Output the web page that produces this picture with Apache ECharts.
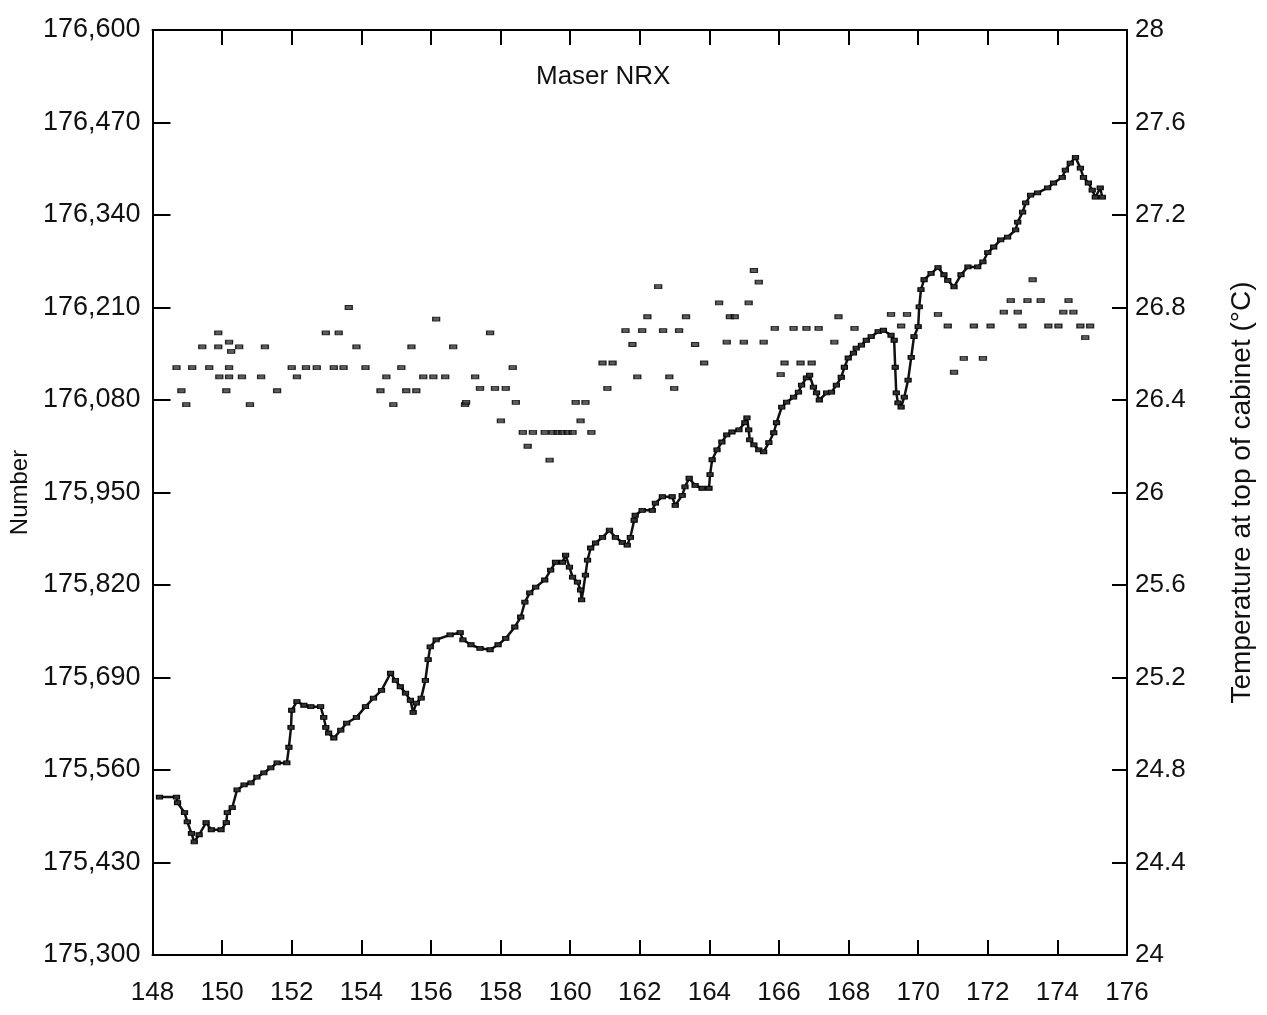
<!DOCTYPE html>
<html>
<head>
<meta charset="utf-8">
<script src="https://cdn.jsdelivr.net/npm/echarts@6/dist/echarts.min.js"></script>
<style>
html,body{margin:0;padding:0;background:#fff;}
#chart{width:1267px;height:1015px;}
</style>
</head>
<body>
<div id="chart"></div>
<script>
// Day of year (x) and count for the maser "Number" trace (left axis)
var numberDays = [148.20,148.69,148.72,148.92,149.00,149.12,149.20,149.34,149.54,149.69,149.97,150.12,150.15,150.29,150.43,150.63,150.83,151.00,151.20,151.40,151.58,151.86,151.92,151.98,152.00,152.15,152.35,152.55,152.83,152.92,152.98,153.06,153.21,153.41,153.58,153.86,154.12,154.35,154.58,154.84,154.98,155.12,155.27,155.41,155.49,155.58,155.72,155.84,155.92,155.98,156.15,156.55,156.84,156.92,157.15,157.41,157.70,157.93,158.15,158.41,158.58,158.70,158.84,159.01,159.27,159.44,159.58,159.78,159.87,159.98,160.07,160.21,160.30,160.33,160.44,160.50,160.59,160.73,160.93,161.13,161.30,161.50,161.64,161.73,161.84,161.87,162.07,162.36,162.45,162.65,162.93,163.02,163.22,163.30,163.42,163.59,163.79,163.99,164.02,164.08,164.22,164.36,164.50,164.65,164.85,165.02,165.08,165.13,165.16,165.28,165.42,165.56,165.71,165.85,165.93,166.08,166.22,166.42,166.56,166.65,166.79,166.88,166.99,167.08,167.16,167.37,167.51,167.65,167.79,167.88,167.99,168.14,168.22,168.37,168.51,168.65,168.85,169.00,169.22,169.31,169.34,169.37,169.42,169.51,169.60,169.71,169.80,169.88,170.00,170.03,170.08,170.17,170.37,170.57,170.74,170.85,171.03,171.23,171.43,171.71,171.86,172.00,172.17,172.37,172.57,172.80,172.86,173.00,173.09,173.23,173.43,173.72,173.89,174.14,174.23,174.37,174.52,174.66,174.75,174.89,175.00,175.09,175.23,175.29];
var numberValues = [175522,175522,175514,175500,175487,175471,175459,175469,175486,175476,175476,175486,175500,175507,175532,175539,175542,175550,175556,175563,175570,175570,175592,175620,175644,175656,175651,175649,175649,175634,175620,175612,175605,175616,175626,175634,175649,175661,175672,175696,175686,175677,175668,175658,175641,175654,175661,175686,175715,175733,175743,175750,175753,175743,175736,175731,175729,175736,175745,175761,175775,175796,175809,175817,175827,175841,175852,175852,175862,175845,175831,175824,175813,175799,175834,175855,175872,175879,175887,175897,175887,175880,175876,175887,175911,175918,175925,175925,175935,175944,175944,175932,175946,175958,175970,175960,175956,175956,175975,175996,176010,176021,176031,176035,176038,176048,176055,176038,176024,176017,176010,176007,176020,176034,176048,176070,176077,176084,176091,176101,176111,176115,176098,176090,176080,176090,176091,176101,176112,176126,176139,176146,176153,176157,176164,176169,176176,176178,176171,176164,176126,176090,176076,176070,176084,176108,176140,176169,176183,176211,176235,176249,176258,176266,176256,176248,176239,176256,176267,176267,176274,176287,176295,176305,176309,176319,176330,176344,176357,176368,176371,176378,176385,176393,176403,176413,176421,176406,176393,176385,176375,176365,176378,176365];

// Day of year and temperature at top of cabinet (right axis, °C)
var tempDays = [148.69,148.83,148.97,149.14,149.43,149.63,149.89,149.89,149.92,150.12,150.20,150.20,150.20,150.26,150.49,150.57,150.80,151.12,151.23,151.58,152.00,152.15,152.41,152.72,152.98,153.21,153.35,153.49,153.64,153.86,154.12,154.55,154.72,154.92,155.15,155.29,155.44,155.58,155.78,156.07,156.15,156.41,156.64,156.98,157.01,157.27,157.41,157.70,157.84,158.01,158.15,158.35,158.44,158.64,158.78,158.93,159.27,159.41,159.50,159.64,159.78,159.93,160.07,160.16,160.30,160.44,160.61,160.93,161.07,161.22,161.59,161.79,161.93,162.07,162.22,162.53,162.67,162.85,162.99,163.13,163.33,163.59,163.85,164.28,164.50,164.59,164.73,164.99,165.13,165.28,165.42,165.56,165.88,166.05,166.16,166.42,166.62,166.79,166.94,167.14,167.59,167.71,168.17,169.22,169.51,169.68,170.57,170.85,171.03,171.31,171.60,171.86,172.08,172.46,172.66,172.86,173.00,173.14,173.29,173.52,173.74,174.03,174.17,174.32,174.46,174.66,174.80,174.94];
var tempValues = [26.54,26.44,26.38,26.54,26.63,26.54,26.69,26.63,26.50,26.44,26.65,26.54,26.50,26.61,26.63,26.50,26.38,26.50,26.63,26.44,26.54,26.50,26.54,26.54,26.69,26.54,26.69,26.54,26.80,26.63,26.54,26.44,26.50,26.38,26.54,26.44,26.63,26.44,26.50,26.50,26.75,26.50,26.63,26.38,26.39,26.50,26.45,26.69,26.45,26.31,26.45,26.54,26.39,26.26,26.20,26.26,26.26,26.14,26.26,26.26,26.26,26.26,26.26,26.39,26.31,26.39,26.26,26.56,26.45,26.56,26.70,26.64,26.50,26.70,26.76,26.89,26.70,26.50,26.45,26.70,26.76,26.64,26.56,26.82,26.65,26.76,26.76,26.65,26.82,26.96,26.91,26.65,26.71,26.51,26.56,26.71,26.56,26.71,26.56,26.71,26.65,26.76,26.71,26.77,26.72,26.77,26.77,26.72,26.52,26.58,26.72,26.58,26.72,26.78,26.83,26.78,26.72,26.83,26.92,26.83,26.72,26.72,26.78,26.83,26.78,26.72,26.67,26.72];

var xTicks = [148,150,152,154,156,158,160,162,164,166,168,170,172,174,176];
var leftTicks = [175300,175430,175560,175690,175820,175950,176080,176210,176340,176470,176600];
var rightTicks = [24,24.4,24.8,25.2,25.6,26,26.4,26.8,27.2,27.6,28];

var titleText = 'Maser NRX';
var leftName = 'Number';
var rightName = 'Temperature at top of cabinet (\u00B0C)';

function pairs(xs, ys){ return xs.map(function(x,i){ return [x, ys[i]]; }); }

var FONT = '"Liberation Sans", Arial, Helvetica, sans-serif';
var chart = echarts.init(document.getElementById('chart'), null, {renderer:'canvas'});
var axisLine = {show:true, lineStyle:{color:'#000', width:2}};

chart.setOption({
  backgroundColor:'#fff',
  animation:false,
  grid:{left:148, right:140, top:30, bottom:60, containLabel:false},
  graphic:[{type:'text', left:536, top:64, style:{text:titleText, font:'26px ' + FONT, fill:'#111'}}],
  xAxis:[{
    type:'value', min:148, max:176, interval:2, position:'bottom',
    axisLine:axisLine,
    axisTick:{show:true, inside:true, length:15, lineStyle:{color:'#000', width:2}},
    axisLabel:{color:'#111', fontSize:26, fontFamily:FONT, margin:25,
      formatter:function(v){ return xTicks.indexOf(v) >= 0 ? String(v) : ''; }},
    splitLine:{show:false}
  },{
    type:'value', min:148, max:176, interval:2, position:'top',
    axisLine:axisLine,
    axisTick:{show:true, inside:true, length:15, lineStyle:{color:'#000', width:2}},
    axisLabel:{show:false}, splitLine:{show:false}
  }],
  yAxis:[{
    type:'value', min:175300, max:176600, interval:130, position:'left',
    name:leftName, nameLocation:'middle', nameGap:112, nameRotate:90,
    nameTextStyle:{color:'#111', fontSize:24, fontFamily:FONT},
    axisLine:axisLine,
    axisTick:{show:true, inside:true, length:18, lineStyle:{color:'#000', width:2}},
    axisLabel:{color:'#111', fontSize:27, fontFamily:FONT, margin:12,
      formatter:function(v){ return v.toLocaleString('en-US'); }},
    splitLine:{show:false}
  },{
    type:'value', min:24, max:28, interval:0.4, position:'right',
    name:rightName, nameLocation:'middle', nameGap:101, nameRotate:90,
    nameTextStyle:{color:'#111', fontSize:28, fontFamily:FONT},
    axisLine:axisLine,
    axisTick:{show:true, inside:true, length:15, lineStyle:{color:'#000', width:2}},
    axisLabel:{color:'#111', fontSize:26, fontFamily:FONT, margin:8,
      formatter:function(v){ var i = rightTicks.findIndex(function(t){return Math.abs(t-v)<1e-6;}); return i>=0 ? String(rightTicks[i]) : ''; }},
    splitLine:{show:false}
  }],
  series:[{
    name:leftName, type:'line', xAxisIndex:0, yAxisIndex:0,
    data:pairs(numberDays, numberValues),
    lineStyle:{color:'#111', width:2.5},
    symbol:'rect', symbolSize:[6,4], showSymbol:true,
    itemStyle:{color:'#333', borderColor:'#000', borderWidth:1}
  },{
    name:rightName, type:'scatter', xAxisIndex:0, yAxisIndex:1,
    data:pairs(tempDays, tempValues),
    symbol:'rect', symbolSize:[7,4],
    itemStyle:{color:'#333', borderColor:'#000', borderWidth:1}
  }]
});
</script>
</body>
</html>
